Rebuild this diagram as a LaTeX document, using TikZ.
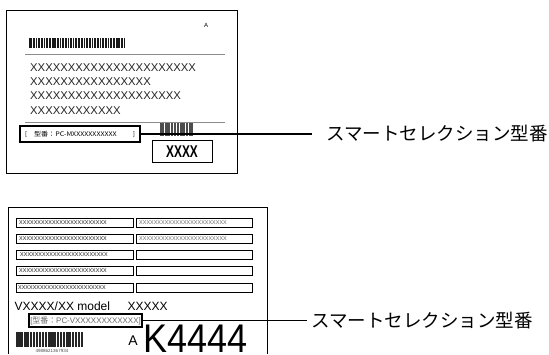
\documentclass[tikz,border=0pt]{standalone}
\usepackage{fontspec}
\setmainfont{Liberation Sans}
\newfontfamily\jp{Noto Sans CJK JP}
\newcommand{\fs}[1]{\fontsize{#1}{#1}\selectfont}
\newcommand{\mybars}[4]{% x-list y1 y2 seed
  \pgfmathsetseed{#4}
  \foreach \xx in {#1} {
    \pgfmathsetmacro\ww{0.35+1.0*rnd}
    \draw[line width=\ww pt] (\xx,#2) -- (\xx,#3);
  }
}
\begin{document}
\begin{tikzpicture}[x=1pt,y=-1pt,
  frame/.style={draw, line width=0.9pt},
  thinrule/.style={draw=black!45, line width=0.8pt},
  modelbox/.style={draw, line width=1.6pt, inner sep=0pt, anchor=center},
  fieldbox/.style={draw, line width=0.8pt, minimum width=117pt, minimum height=9pt, inner sep=0pt, anchor=center},
  fieldtxt/.style={font=\fs{7.3}, text=black!75, inner sep=0pt, anchor=west},
  calltxt/.style={font=\jp\fs{18.5}, anchor=west, inner ysep=0pt},
  callout/.style={draw, line width=1.2pt}]
\useasboundingbox (0,0) rectangle (549,354);

% ---------------- top label ----------------
\draw[frame] (6,10) rectangle (237,173);
\node[font=\fs{6}, inner sep=0pt] (ta) at (206,25) {A};
\begin{scope}[black!90]
\mybars{30,31.6,...,124.5}{38}{48}{11}
\end{scope}
\draw[thinrule] (25,54) -- (225,54);
\begin{scope}[font=\fs{11.3}, text=black!85]
\node[anchor=west, inner sep=0pt] (tx1) at (30,68) {XXXXXXXXXXXXXXXXXXXXXX};
\node[anchor=west, inner sep=0pt] (tx2) at (30,82) {XXXXXXXXXXXXXXXX};
\node[anchor=west, inner sep=0pt] (tx3) at (30,96) {XXXXXXXXXXXXXXXXXXXX};
\node[anchor=west, inner sep=0pt] (tx4) at (30,111) {XXXXXXXXXXXX};
\end{scope}
\draw[thinrule] (25,122.5) -- (225,122.5);
\begin{scope}[black!70]
\mybars{160.5,162,...,193}{123}{136}{5}
\end{scope}
\node[modelbox, minimum width=120pt, minimum height=16pt] (topmodel) at (80,134)
  {\hbox to 110pt{\jp\fs{6.3}[\hspace{7pt}\scalebox{1.12}[1]{型番：PC-MXXXXXXXXXXX}\hfill]}};
\node[draw, line width=0.9pt, minimum width=60pt, minimum height=22pt, inner sep=0pt] (xxxx) at (182,151.5)
  {\fs{17}\bfseries\scalebox{0.7}[1]{XXXX}};
\node[calltxt, inner xsep=14pt] (toplabel) at (312,134) {スマートセレクション型番};
\draw[callout] (topmodel.east) -- (toplabel.west);

% ---------------- bottom label ----------------
\draw[frame] (8,354) -- (8,207) -- (267,207) -- (267,354);
\foreach \r/\yy in {1/222.5,2/238.5,3/254.5,4/270.5,5/287.5} {
  \node[fieldbox] (L\r) at (74.5,\yy) {};
  \node[fieldbox, minimum width=116pt] (R\r) at (194,\yy) {};
}
\node[fieldtxt] (lt1) at (19,222.5) {xxxxxxxxxxxxxxxxxxxxxxxx};
\node[fieldtxt] (lt2) at (19,238.5) {xxxxxxxxxxxxxxxxxxxxxxxx};
\node[fieldtxt] (lt3) at (20,254.5) {xxxxxxxxxxxxxxxxxxxxxxxx};
\node[fieldtxt] (lt4) at (19,270.5) {xxxxxxxxxxxxxxxxxxxxxxxx};
\node[fieldtxt] (lt5) at (18,287.5) {xxxxxxxxxxxxxxxxxxxxxxxx};
\node[fieldtxt, text=black!50] (rt1) at (139,222.5) {xxxxxxxxxxxxxxxxxxxxxxxx};
\node[fieldtxt, text=black!50] (rt2) at (139,238.5) {xxxxxxxxxxxxxxxxxxxxxxxx};
\node[font=\fs{12}, anchor=west, inner sep=0pt] (model) at (14.5,306.5) {VXXXX/XX model};
\node[font=\fs{12}, anchor=west, inner sep=0pt] (mx) at (127.5,306.5) {XXXXX};
\node[modelbox, line width=1.5pt, minimum width=113pt, minimum height=13pt, text=black!60] (botmodel) at (85.5,320.5)
  {\fs{8}\scalebox{0.99}[1]{[{\jp 型番：}PC-VXXXXXXXXXXXX]}};
\node[calltxt, inner xsep=4pt] (botlabel) at (307,320.5) {スマートセレクション型番};
\draw[callout] (botmodel.east) -- (botlabel.west);
\begin{scope}[black!85]
\mybars{16.5,18,...,83}{332}{347}{9}
\end{scope}
\node[font=\fs{4.5}, inner sep=0pt, text=black!70] (num) at (52,350.5) {4988621367934};
\node[font=\fs{14}, anchor=base, inner sep=0pt] (ba) at (133,345) {A};
\node[font=\fs{40}, anchor=base west, inner sep=0pt] (k4) at (143,352.5) {\scalebox{0.9}[1]{K4444}};
\end{tikzpicture}
\end{document}
